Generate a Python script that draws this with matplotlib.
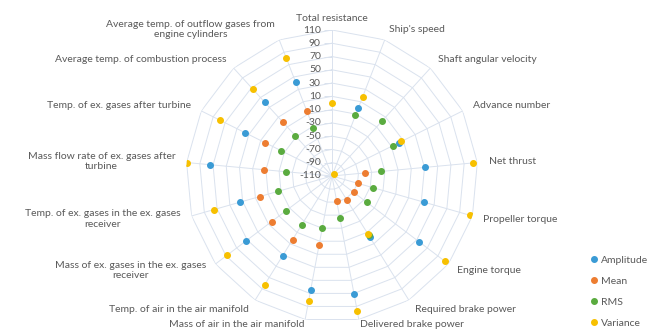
import matplotlib

matplotlib.use("Agg")
import matplotlib.path as mpath
import matplotlib.pyplot as plt
import numpy as np
from matplotlib.lines import Line2D

plt.rcParams["font.family"] = ["Lato", "DejaVu Sans"]

# === data ===
CATEGORIES = [
    "Total resistance",
    "Ship's speed",
    "Shaft angular velocity",
    "Advance number",
    "Net thrust",
    "Propeller torque",
    "Engine torque",
    "Required brake power",
    "Delivered brake power",
    "Mass of air in the air manifold",
    "Temp. of air in the air manifold",
    "Mass of ex. gases in the ex. gases\nreceiver",
    "Temp. of ex. gases in the ex. gases\nreceiver",
    "Mass flow rate of ex. gases after\nturbine",
    "Temp. of ex. gases after turbine",
    "Average temp. of combustion process",
    "Average temp. of outflow gases from\nengine cylinders",
]
nan = np.nan
AMPLITUDE = [nan, 0, nan, 2, 31, 34, 55, -2, 71, 65, 31, 52, 34, 75, 37, 40, 42]
MEAN = [nan, nan, nan, nan, -60, -69, -69, -68, -71, -4, 3, 4, 3, -7, 3, 0, -5]
RMS = [nan, -12, 2, -8, -36, -45, -44, -5, -46, -31, -24, -23, -25, -40, -25, -28, -32]
VARIANCE = [0, 18, -105, 7, 104, 106, 103, -8, 97, 81, 83, 88, 75, 110, 78, 67, 80]
R_TICKS = list(range(-110, 111, 20))

SERIES = [
    ("Amplitude", AMPLITUDE, "#3a9bd5"),
    ("Mean", MEAN, "#ed7d31"),
    ("RMS", RMS, "#5aab3f"),
    ("Variance", VARIANCE, "#f7c000"),
]

GRID = "#dae2ee"
TEXT = "#595959"
FS = 7.5

fig = plt.figure(figsize=(6.6, 3.36), dpi=100, facecolor="white")
ax = fig.add_axes([0.2818, 0.0417, 0.4424, 0.8690], projection="polar")
ax.set_theta_zero_location("N")
ax.set_theta_direction(-1)
ax.set_ylim(R_TICKS[0], R_TICKS[-1])
ax.grid(False)
ax.spines["polar"].set_visible(False)
ax.set_xticks([])
ax.set_yticks([])

n = len(CATEGORIES)
angles = np.arange(n) * 2 * np.pi / n
closed = np.append(angles, angles[0])

# polygon web + spokes (Excel style)
for level in R_TICKS[1:]:
    ax.plot(closed, [level] * (n + 1), color=GRID, lw=0.7, zorder=1)
for a in angles:
    ax.plot([a, a], [R_TICKS[0], R_TICKS[-1]], color=GRID, lw=0.7, zorder=1)

# radial axis labels with small outside ticks
tick_marker = mpath.Path([(-1, 0), (0, 0)], [mpath.Path.MOVETO, mpath.Path.LINETO])
ax.plot([0] * len(R_TICKS), R_TICKS, linestyle="none", marker=tick_marker,
        markersize=11, markeredgecolor=GRID, markeredgewidth=0.7, zorder=1)
for v in R_TICKS:
    ax.annotate(str(v), xy=(0, v), xytext=(-8, 0), textcoords="offset points",
                ha="right", va="center", fontsize=FS, color=TEXT)

# category labels
for a, label in zip(angles, CATEGORIES):
    s, c = np.sin(a), np.cos(a)
    if s > 0.1:
        ha = "left"
    elif s < -0.1:
        ha = "right"
    else:
        ha = "center"
    r = 118 if c < -0.9 else 127
    ax.text(a, r, label, ha=ha, va="center", fontsize=FS, color=TEXT,
            multialignment="center")

for name, values, color in SERIES:
    ax.plot(angles, values, linestyle="none", marker="o", markersize=4.0,
            color=color, label=name, zorder=3)

handles = [Line2D([], [], linestyle="none", marker="o", markersize=4.0, color=c)
           for _, _, c in SERIES]
fig.legend(handles, [s[0] for s in SERIES], loc="upper left",
           bbox_to_anchor=(0.896, 0.24), frameon=False, fontsize=FS,
           handlelength=0.6, handletextpad=0.3, labelspacing=1.12,
           labelcolor=TEXT, borderaxespad=0, borderpad=0)

fig.savefig("out.png", dpi=100, facecolor="white")
